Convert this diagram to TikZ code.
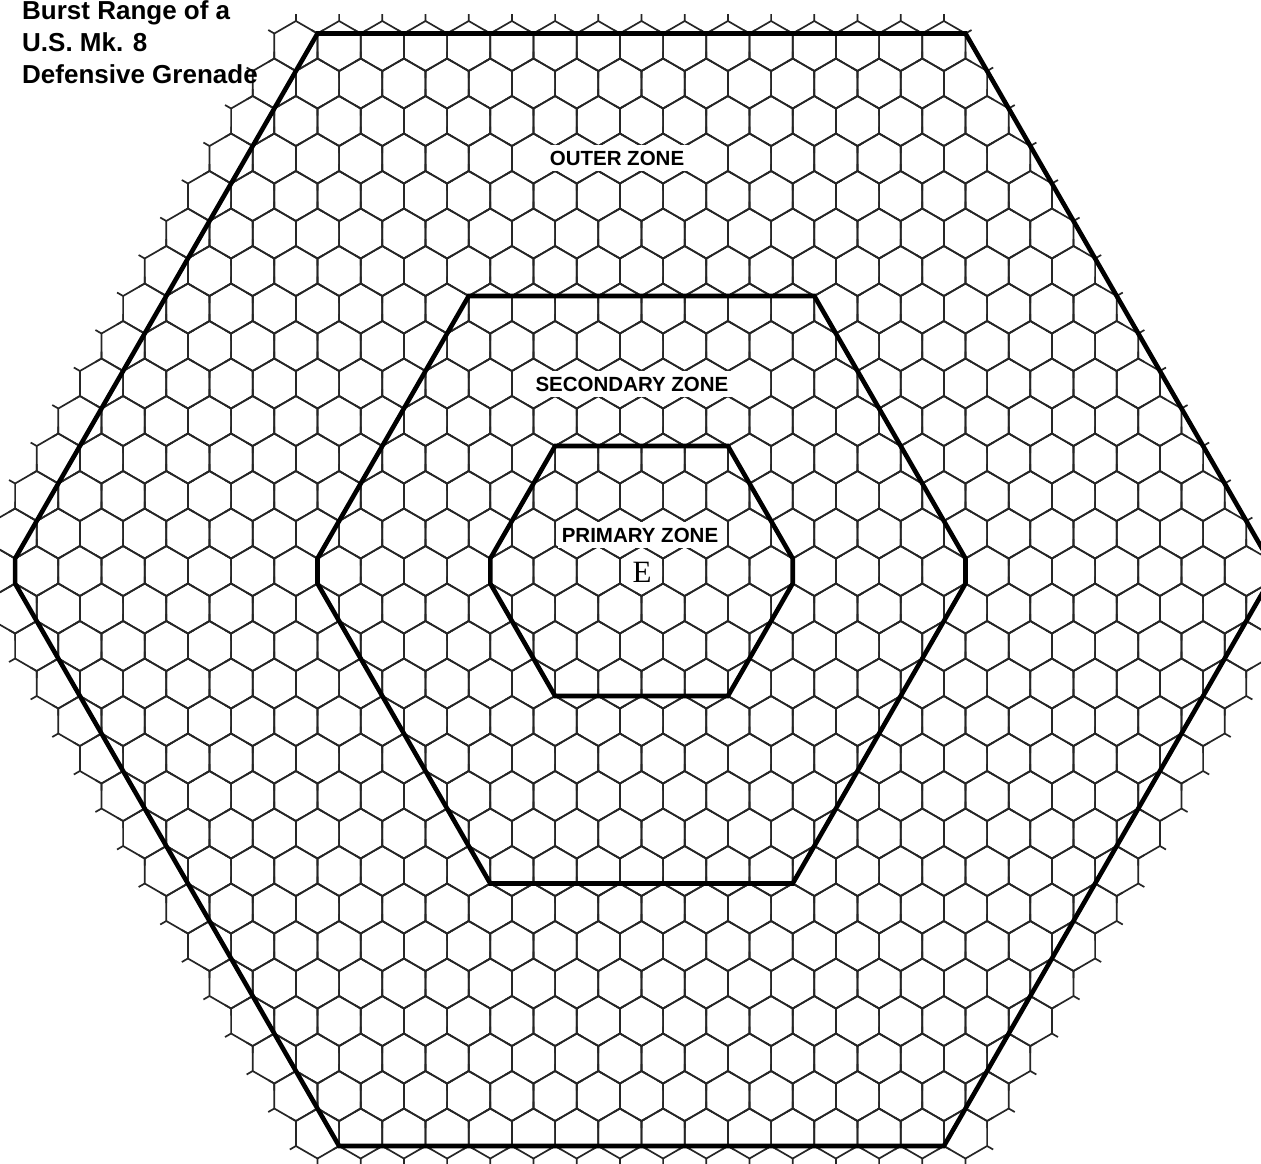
\documentclass[tikz,border=0pt]{standalone}
\usepackage{fontspec}
\setmainfont{Liberation Serif}
\newfontfamily\labfont{Liberation Sans}
\begin{document}
\begin{tikzpicture}[x=1pt,y=-1pt,
  gridline/.style={draw=black!85, line width=1.7pt, line join=round},
  zoneline/.style={draw=black, line width=4.6pt, line join=miter},
  zonelabel/.style={font=\labfont\bfseries\fontsize{20.5}{24}\selectfont, fill=white, inner xsep=4pt, inner ysep=6pt},
  titlelabel/.style={font=\labfont\bfseries\fontsize{26}{30}\selectfont, inner sep=0pt, anchor=base west}]
\fill[white] (0,0) rectangle (1261,1163);
\useasboundingbox (0,0) rectangle (1261,1163);
\begin{scope}
\clip (0,0) rectangle (1261,1163);
% hex grid (pointy-top hexes)
\foreach \r in {-14,...,15}{
  \foreach \q in {-15,...,14}{
    \pgfmathtruncatemacro\ss{-(\q)-(\r)}
    \ifnum\ss>15 \else \ifnum\ss<-15 \else
      \pgfmathsetmacro\cx{641.5+43.2*(\q+0.5*\r)}
      \pgfmathsetmacro\cy{571+37.5*\r}
      \draw[gridline] (\cx,\cy) ++(0,-25) -- ++(21.6,12.5) -- ++(0,25) -- ++(-21.6,12.5) -- ++(-21.6,-12.5) -- ++(0,-25) -- cycle;
      \draw[gridline]
        (\cx,\cy) ++(0,-25) -- ++(0,-7)
        (\cx,\cy) ++(21.6,-12.5) -- ++(6.06,-3.5)
        (\cx,\cy) ++(21.6,12.5) -- ++(6.06,3.5)
        (\cx,\cy) ++(0,25) -- ++(0,7)
        (\cx,\cy) ++(-21.6,12.5) -- ++(-6.06,3.5)
        (\cx,\cy) ++(-21.6,-12.5) -- ++(-6.06,-3.5);
    \fi\fi
  }
}
% zone outlines
\draw[zoneline] (317.5,33.5) -- (965.5,33.5) -- (1267.9,558.5) -- (1267.9,583.5) -- (943.9,1146) -- (339.1,1146) -- (15.1,583.5) -- (15.1,558.5) -- cycle;
\draw[zoneline] (468.7,296) -- (814.3,296) -- (965.5,558.5) -- (965.5,583.5) -- (792.7,883.5) -- (490.3,883.5) -- (317.5,583.5) -- (317.5,558.5) -- cycle;
\draw[zoneline] (555.1,446) -- (727.9,446) -- (792.7,558.5) -- (792.7,583.5) -- (727.9,696) -- (555.1,696) -- (490.3,583.5) -- (490.3,558.5) -- cycle;
\end{scope}
% labels
\node[zonelabel] (outer) at (617,158) {OUTER ZONE};
\node[zonelabel] (secondary) at (632,384) {SECONDARY ZONE};
\node[zonelabel] (primary) at (640,535) {PRIMARY ZONE};
\node[font=\fontsize{31}{34}\selectfont, inner sep=0pt] (e) at (642,572) {E};
% title
\node[titlelabel] (t1) at (22,19) {Burst Range of a};
\node[titlelabel] (t2) at (22,51) {U.S. Mk. 8};
\node[titlelabel] (t3) at (22,83) {Defensive Grenade};
\end{tikzpicture}
\end{document}
